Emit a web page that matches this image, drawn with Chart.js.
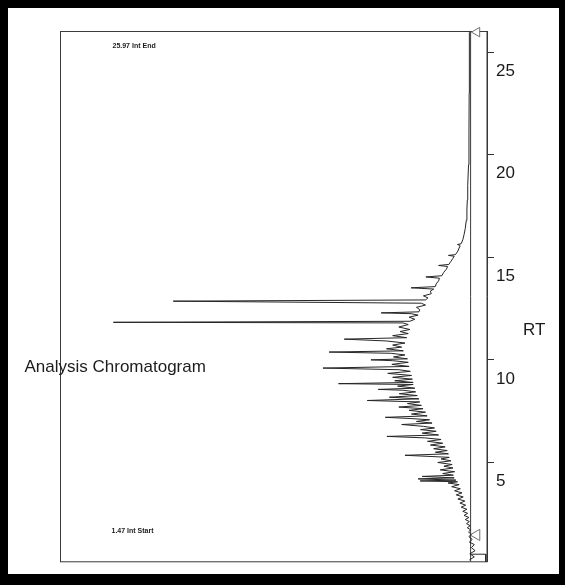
<!DOCTYPE html>
<html><head><meta charset="utf-8">
<script src="https://cdn.jsdelivr.net/npm/chart.js@4/dist/chart.umd.min.js"></script>
<style>
html,body{margin:0;padding:0;background:#000;width:565px;height:585px;overflow:hidden}
#wrap{position:absolute;left:8px;top:8px;width:551px;height:566px;background:#fff}
canvas{display:block}
</style></head><body>
<div id="wrap"><canvas id="c" width="551" height="566"></canvas></div>
<script>
// Retention time (min) and detector intensity of the analysis chromatogram
const retentionTimes = [
0.25,0.4,0.55,0.7,0.85,1.0,1.12,1.25,1.38,1.5,
1.62,1.72,1.82,1.92,2.02,2.12,2.22,2.32,2.42,2.52,
2.62,2.72,2.82,2.92,3.02,3.12,3.22,3.32,3.42,3.52,
3.62,3.72,3.82,3.92,4.0,4.06,4.1,4.14,4.2,4.25,
4.32,4.38,4.46,4.55,4.64,4.73,4.82,4.9,5.0,5.08,
5.17,5.25,5.35,5.42,5.5,5.58,5.67,5.76,5.85,5.94,
6.03,6.12,6.2,6.27,6.34,6.43,6.52,6.6,6.68,6.76,
6.85,6.92,7.0,7.08,7.14,7.2,7.27,7.36,7.45,7.54,
7.62,7.7,7.78,7.87,7.95,8.02,8.1,8.18,8.26,8.35,
8.44,8.52,8.56,8.62,8.72,8.8,8.84,8.9,8.98,9.06,
9.15,9.24,9.34,9.44,9.52,9.6,9.68,9.78,9.88,9.96,
10.0,10.05,10.14,10.24,10.32,10.38,10.44,10.54,10.62,10.72,
10.82,10.92,11.01,11.08,11.18,11.28,11.38,11.48,11.6,11.72,
11.8,11.83,11.88,11.98,12.08,12.18,12.25,12.29,12.34,12.45,
12.56,12.67,12.76,12.86,12.92,13.02,13.12,13.22,13.35,13.45,
13.51,13.57,13.7,13.85,13.98,14.04,14.1,14.25,14.42,14.55,
14.6,14.65,14.8,14.95,15.05,15.09,15.13,15.3,15.5,15.58,
15.62,15.66,15.85,16.1,16.4,16.8,17.3,17.8,18.5,19.5,
21,23,25.97
];
const intensities = [
0.3,-0.9,0.2,-1.1,-0.2,-0.9,0.3,-0.4,0.4,-0.1,
0.5,0.0,0.8,0.1,1.0,0.3,1.3,0.4,1.6,0.7,
1.9,0.9,2.3,1.2,2.6,1.4,3.1,1.8,3.5,2.1,
3.9,2.5,4.6,2.8,5.5,3.2,12.3,3.6,12.8,4.0,
11.8,4.2,6.8,3.9,7.4,4.3,6.5,4.5,8.0,4.8,
7.2,5.2,16.0,5.4,8.6,5.7,9.0,6.2,9.8,6.8,
10.5,7.2,11.2,20.4,7.8,11.8,8.4,12.2,8.8,11.5,
16.8,9.4,13.2,10.0,14.5,20.8,10.6,14.4,11.0,15.0,
11.6,17.5,12.0,15.4,12.4,25.2,12.6,19.8,13.0,17.4,
13.4,16.5,22.5,13.6,17.8,14.0,32.2,14.0,18.5,14.2,
19.0,14.4,20.2,14.7,17.5,36.0,15.0,19.2,15.2,19.0,
24.3,15.4,18.8,16.0,19.5,34.5,16.4,20.5,16.8,19.0,
16.0,20.5,30.8,15.6,19.0,15.2,17.2,14.8,17.5,15.2,
16.5,87.1,14.8,13.6,15.0,12.8,14.5,21.8,12.6,12.4,
13.2,11.0,12.0,72.5,11.0,10.4,11.5,9.6,9.8,9.0,
14.5,8.6,8.4,7.8,7.6,10.9,7.0,6.6,5.9,5.6,
7.8,5.3,4.8,4.3,4.0,5.4,3.7,3.1,2.7,2.6,
3.2,2.3,1.9,1.6,1.3,1.05,0.9,0.8,0.7,0.5,
0.4,0.35,0.3
];
const rtTicks = [5, 10, 15, 20, 25];
const rtRange = [0.16, 26.0];
const intensityRange = [-4, 100];
const baselineTimes = [0.16, 26.0];
const baselineIntensities = [0, 0];
const stopTimes = [0.53, 0.53, 0.16];
const stopIntensities = [0, -3.7, -3.7];
const markerTimes = [25.97, 1.47];
const markerIntensities = [-1.55, -1.45];
const markerTexts = ['25.97 Int End', '1.47 Int Start'];
const chartTitle = 'Analysis Chromatogram';
const axisTitle = 'RT';

const toPoints = (ts, vs) => ts.map((t, i) => ({x: vs[i], y: t}));

const framePlugin = {
  id: 'frame',
  beforeDatasetsDraw(chart) {
    const {ctx, chartArea: a} = chart;
    ctx.save();
    ctx.strokeStyle = '#3a3a3a';
    ctx.lineWidth = 1;
    ctx.strokeRect(a.left, a.top, a.right - a.left, a.bottom - a.top);
    ctx.restore();
  },
  afterDraw(chart) {
    const {ctx, chartArea: a} = chart;
    const ys = chart.scales.y;
    ctx.save();
    ctx.fillStyle = '#1c1c1c';
    ctx.textBaseline = 'alphabetic';
    ctx.font = "17px 'Liberation Sans', Arial, sans-serif";
    ctx.fillText(chartTitle, 16.5, 364);
    ctx.fillText(axisTitle, 515, 327);
    ctx.font = "bold 7px 'Liberation Sans', Arial, sans-serif";
    ctx.fillText(markerTexts[0], a.left + 52, ys.getPixelForValue(markerTimes[0]) + 16);
    ctx.fillText(markerTexts[1], a.left + 51, ys.getPixelForValue(markerTimes[1]) - 2);
    ctx.restore();
  }
};

new Chart(document.getElementById('c'), {
  type: 'scatter',
  data: {
    datasets: [
      {data: toPoints(retentionTimes, intensities), showLine: true, borderColor: '#262626',
       borderWidth: 1, pointRadius: 0, tension: 0},
      {data: toPoints(baselineTimes, baselineIntensities), showLine: true, borderColor: '#3a3a3a',
       borderWidth: 1, pointRadius: 0},
      {data: toPoints(stopTimes, stopIntensities), showLine: true, borderColor: '#2a2a2a',
       borderWidth: 1, pointRadius: 0},
      {data: toPoints(markerTimes, markerIntensities), showLine: false, pointStyle: 'triangle',
       rotation: -90, pointRadius: [5.5, 6.5], pointBackgroundColor: '#ffffff',
       pointBorderColor: '#707070', pointBorderWidth: 1, clip: false}
    ]
  },
  options: {
    responsive: false, animation: false, devicePixelRatio: 1,
    layout: {padding: {left: 52.5, top: 23.5, bottom: 11.5, right: 0}},
    plugins: {legend: {display: false}, tooltip: {enabled: false}},
    scales: {
      x: {type: 'linear', reverse: true, min: intensityRange[0], max: intensityRange[1], display: false},
      y: {type: 'linear', position: 'right', min: rtRange[0], max: rtRange[1],
        afterBuildTicks: s => { s.ticks = rtTicks.map(v => ({value: v})); },
        afterFit: s => { s.width = 72; },
        grid: {drawOnChartArea: false, drawTicks: true, tickLength: 7, color: '#333', lineWidth: 1},
        border: {display: true, color: '#333', width: 1},
        ticks: {padding: 2, labelOffset: 19, color: '#1a1a1a',
          font: {family: "'Liberation Sans', Arial, sans-serif", size: 17}}
      }
    }
  },
  plugins: [framePlugin]
});
</script>
</body></html>
